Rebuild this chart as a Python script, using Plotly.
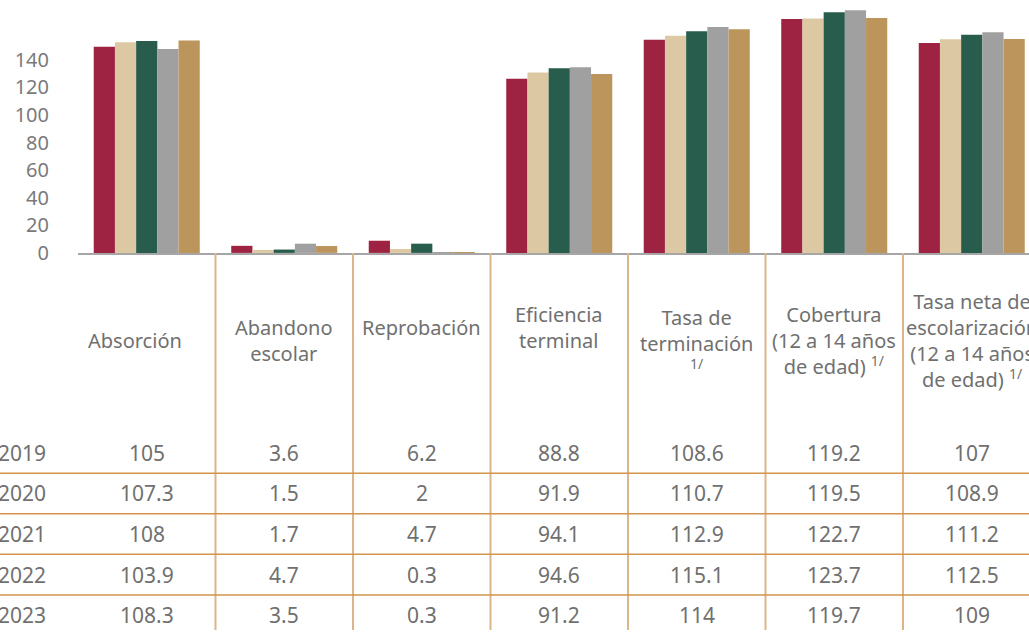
import plotly.graph_objects as go

categories = ["Absorción", "Abandono escolar", "Reprobación", "Eficiencia terminal",
              "Tasa de terminación 1/", "Cobertura (12 a 14 años de edad) 1/",
              "Tasa neta de escolarización (12 a 14 años de edad) 1/"]
header_labels = ["Absorción", "Abandono<br>escolar", "Reprobación", "Eficiencia<br>terminal",
                 "Tasa de<br>terminación<br><sup>1/</sup>",
                 "Cobertura<br>(12 a 14 años<br>de edad) <sup>1/</sup>",
                 "Tasa neta de<br>escolarización<br>(12 a 14 años<br>de edad) <sup>1/</sup>"]
years = ["2019", "2020", "2021", "2022", "2023"]
v2019 = [105, 3.6, 6.2, 88.8, 108.6, 119.2, 107]
v2020 = [107.3, 1.5, 2, 91.9, 110.7, 119.5, 108.9]
v2021 = [108, 1.7, 4.7, 94.1, 112.9, 122.7, 111.2]
v2022 = [103.9, 4.7, 0.3, 94.6, 115.1, 123.7, 112.5]
v2023 = [108.3, 3.5, 0.3, 91.2, 114, 119.7, 109]
series = [v2019, v2020, v2021, v2022, v2023]
tick_labels = [0, 20, 40, 60, 80, 100, 120, 140]
label_ratio = 0.703  # axis tick labels in the source are drawn on a different scale

colors = ["#9E2241", "#DCC9A3", "#285C4D", "#A0A0A0", "#BC955C"]
FONT = "Noto Sans"
TXT = "#707070"

W, H = 1029, 643
K = 656 / 643          # vertical compensation for the capture
plot_left = 78
zero_d = 253 * K
cat_px = 137.5
x_end = -0.5 + (W - plot_left) / cat_px
x2_start = -0.5 - plot_left / cat_px
y_top_units = 253 / 1.963

fig = go.Figure()
for yr, vals, c in zip(years, series, colors):
    fig.add_trace(go.Bar(x=list(range(len(categories))), y=vals, name=yr,
                         marker=dict(color=c, line=dict(width=0)),
                         xaxis="x", yaxis="y", showlegend=False, hoverinfo="y"))

# invisible trace to keep the table subplot alive
fig.add_trace(go.Scatter(x=[0], y=[H + 50], xaxis="x2", yaxis="y2", mode="markers",
                         marker=dict(opacity=0), showlegend=False, hoverinfo="skip"))

shapes = []
annotations = []

# vertical table separators
for i in range(len(categories) - 1):
    shapes.append(dict(type="line", xref="x2", yref="y2", x0=i + 0.5, x1=i + 0.5,
                       y0=zero_d, y1=H, line=dict(color="#DDB58A", width=2)))

row0 = 453 * K
row_last = 628
row_pitch = (row_last - row0) / (len(years) - 1)
for r in range(len(years) - 1):
    yy = row0 + row_pitch * (r + 0.5)
    shapes.append(dict(type="line", xref="x2", yref="y2", x0=x2_start, x1=x_end,
                       y0=yy, y1=yy, line=dict(color="#D3934C", width=1.5)))

# headers
header_center = [341, 341, 328, 328, 339, 341, 341]
header_dx = [-12, 0, 0, 0, 0, 0, 0]
for i, lab in enumerate(header_labels):
    annotations.append(dict(xref="x2", yref="y2", x=i + header_dx[i] / cat_px,
                            y=header_center[i] * K,
                            text=lab, showarrow=False, xanchor="center", yanchor="middle",
                            align="center", font=dict(family=FONT, size=20, color=TXT)))

# year labels and values
for r, (yr, vals) in enumerate(zip(years, series)):
    yy = row0 + row_pitch * r
    annotations.append(dict(xref="x2", yref="y2", x=x2_start + 48 / cat_px, y=yy,
                            text=yr, showarrow=False, xanchor="right", yanchor="middle",
                            font=dict(family=FONT, size=21, color=TXT)))
    for i, v in enumerate(vals):
        annotations.append(dict(xref="x2", yref="y2", x=i, y=yy, text=f"{v:g}",
                                showarrow=False, xanchor="center", yanchor="middle",
                                font=dict(family=FONT, size=21, color=TXT)))

fig.update_layout(
    width=W, height=H, autosize=False,
    margin=dict(l=0, r=0, t=0, b=0, pad=0),
    paper_bgcolor="white", plot_bgcolor="white",
    barmode="group", bargap=0.229, bargroupgap=0,
    font=dict(family=FONT, color=TXT),
    xaxis=dict(domain=[plot_left / W, 1], range=[-0.5, x_end], showticklabels=False,
               ticks="", showgrid=False, zeroline=False, showline=True,
               linecolor="#A6A6A6", linewidth=2, anchor="y", fixedrange=True),
    yaxis=dict(domain=[1 - zero_d / H, 1], range=[0, y_top_units],
               tickvals=[t * label_ratio for t in tick_labels],
               ticktext=[str(t) for t in tick_labels], ticks="", ticklabelstandoff=28,
               tickfont=dict(family=FONT, size=20, color="#7A7A7A"),
               showgrid=False, zeroline=False, showline=False, anchor="x", fixedrange=True),
    xaxis2=dict(domain=[0, 1], range=[x2_start, x_end], visible=False, anchor="y2", fixedrange=True),
    yaxis2=dict(domain=[0, 1 - zero_d / H], range=[H, zero_d], visible=False, anchor="x2",
                fixedrange=True),
    shapes=shapes, annotations=annotations,
)

fig.write_html("out.html", config={"displayModeBar": False},
               post_script="document.body.style.margin='0';")
